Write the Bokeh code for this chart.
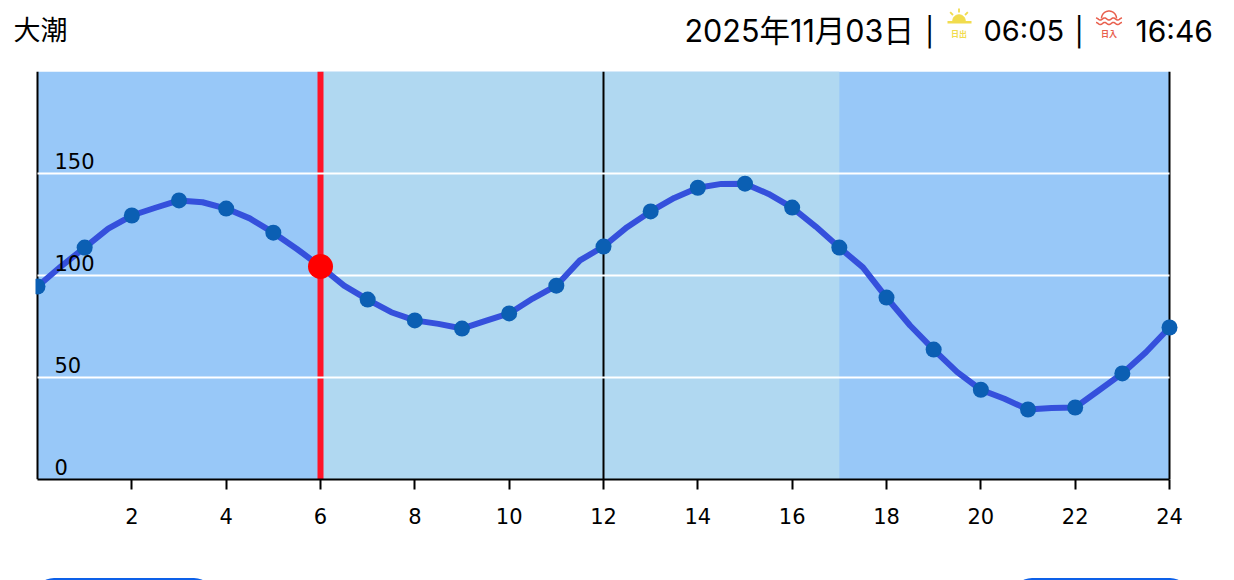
import numpy as np
from bokeh.plotting import figure
from bokeh.layouts import column
from bokeh.models import Range1d, FixedTicker, Div
from bokeh.core.properties import value
from bokeh.embed import file_html
from bokeh.resources import INLINE

hours = list(range(25))
tide = [94.6, 113.7, 129.4, 136.8, 132.8, 121.0, 104.4, 88.2, 78.0, 74.0, 81.4, 95.0, 114.2,
        131.4, 143.0, 145.0, 133.3, 113.7, 89.2, 63.7, 44.0, 34.3, 35.3, 52.0, 74.5]
half_hours = [h + 0.5 for h in range(24)]
tide_half = [104.5, 123.0, 133.2, 135.9, 128.0, 113.0, 95.0, 82.0, 76.3, 77.8, 88.7, 107.4,
             123.7, 138.0, 144.9, 140.0, 124.0, 104.0, 75.5, 52.6, 39.6, 35.0, 43.6, 62.4]
x_ticks = list(range(2, 25, 2))
y_ticks = [0, 50, 100, 150]
y_gridlines = [50, 100, 150]
day_start, day_end = 6, 17
now_hour, now_value = 6, 104.4
noon = 12
title = "大潮"
date_text = "2025年11月03日"
sunrise = "06:05"
sunset = "16:46"

NIGHT = "#98c8f8"
DAY = "#b0d8f1"
LINE = "#3550dc"
DOT = "#0b5fb3"
RED = "#ff1428"
YEL = "#f1dc4e"
SUNSET = "#e9604e"
CJK = "Noto Sans CJK JP"
LATIN = "Inter, 'Noto Sans CJK JP'"

W = 1234

# ---- header strip: coordinates equal page pixels
head = figure(frame_width=W, frame_height=71, output_backend="svg", toolbar_location=None,
              x_range=Range1d(0, W), y_range=Range1d(71, 0),
              min_border=0, outline_line_color=None, x_axis_type=None, y_axis_type=None)
head.grid.visible = False

def htext(x, y, s, size, font, color="#000000", align="left", style="normal"):
    head.text([x], [y], text=[s], text_font=value(font), text_font_size=size,
              text_color=color, text_align=align, text_baseline="middle", text_font_style=style)

htext(13, 28, title, "27px", CJK)
htext(684, 30, date_text, "30.5px", LATIN)
htext(924.5, 31, "|", "28px", LATIN)
htext(983, 30, sunrise, "29px", LATIN)
htext(1074, 31, "|", "28px", LATIN)
htext(1135, 30, sunset, "30px", LATIN)

# sunrise icon
cx, cy = 958.5, 20.5
t = np.linspace(np.pi, 2 * np.pi, 24)
head.patch(cx + 6.5 * np.cos(t), cy + 6.5 * np.sin(t), fill_color=YEL, line_color=YEL, line_width=0.5)
head.line([947, 971], [21.8, 21.8], line_color=YEL, line_width=2.5)
for a in (-90, -45, -135):
    r = np.radians(a)
    head.line([cx + 8.5 * np.cos(r), cx + 12.5 * np.cos(r)],
              [cy + 8.5 * np.sin(r), cy + 12.5 * np.sin(r)], line_color=YEL, line_width=1.8)
htext(958.5, 33, "日出", "8px", CJK, YEL, "center", "bold")

# sunset icon
sx, sy = 1108.5, 18
head.line(sx + 7.5 * np.cos(t), sy + 7.5 * np.sin(t), line_color=SUNSET, line_width=1.5)
for wy in (18.5, 23):
    wx = np.linspace(-13, 13, 40)
    head.line(sx + wx, wy + 1.1 * np.cos(wx * 0.72), line_color=SUNSET, line_width=1.5)
htext(1108.5, 32.5, "日入", "8px", CJK, SUNSET, "center", "bold")

# ---- chart: frame spans the whole page width so both ends of the curve can overhang
ppx = 1132 / 24
left_px = 37
p = figure(frame_width=W, frame_height=408, output_backend="svg", toolbar_location=None,
           x_range=Range1d(-left_px / ppx, (W - left_px) / ppx), y_range=Range1d(0, 200),
           min_border_left=0, min_border_right=0, min_border_top=0, min_border_bottom=101,
           outline_line_color=None, y_axis_type=None)
p.grid.visible = False

p.quad(left=[0], right=[24], bottom=[0], top=[200], fill_color=NIGHT, line_color=None)
p.quad(left=[day_start], right=[day_end], bottom=[0], top=[200], fill_color=DAY, line_color=None)
p.segment(x0=[now_hour], x1=[now_hour], y0=[0], y1=[200], line_color=RED, line_width=6)
p.segment(x0=[noon, 0, 24], x1=[noon, 0, 24], y0=[0, 0, 0], y1=[200, 200, 200],
          line_color="#000000", line_width=2)
p.segment(x0=[0] * len(y_gridlines), x1=[24] * len(y_gridlines), y0=y_gridlines, y1=y_gridlines,
          line_color="#ffffff", line_width=2)

order = np.argsort(hours + half_hours)
lx = np.array(hours + half_hours)[order]
ly = np.array(tide + tide_half)[order]
p.line(lx, ly, line_color=LINE, line_width=6, line_join="round")
p.scatter(hours, tide, size=16, fill_color=DOT, line_color=None)
p.scatter([now_hour], [now_value], size=25, fill_color="#ff0000", line_color=None)
# the first dot is cut just left of the axis in the reference
p.quad(left=[-left_px / ppx], right=[-2 / ppx], bottom=[0], top=[200], fill_color="#ffffff", line_color=None)

p.text([0] * len(y_ticks), y_ticks, text=[str(v) for v in y_ticks], x_offset=17, y_offset=-12.5,
       text_font=value("DejaVu Sans"), text_font_size="21px", text_color="#000000",
       text_align="left", text_baseline="alphabetic")

ax = p.xaxis[0]
ax.bounds = (0, 24)
ax.ticker = FixedTicker(ticks=x_ticks)
ax.axis_line_color = "#000000"
ax.axis_line_width = 2
ax.major_tick_line_color = "#000000"
ax.major_tick_line_width = 2
ax.major_tick_in = 0
ax.major_tick_out = 10
ax.minor_tick_line_color = None
ax.major_label_text_font = "DejaVu Sans"
ax.major_label_text_font_size = "21px"
ax.major_label_text_color = "#000000"
ax.major_label_standoff = 18

def button(left, width):
    return (f'<div style="position:fixed;left:{left}px;top:578px;width:{width}px;height:44px;'
            f'border-radius:20px;background:#0d60e8"></div>')

btns = Div(text=button(34, 180) + button(1012, 178), width=1, height=0, margin=0)

layout = column(head, p, btns, spacing=0)
open("out.html", "w").write(file_html(layout, INLINE))
